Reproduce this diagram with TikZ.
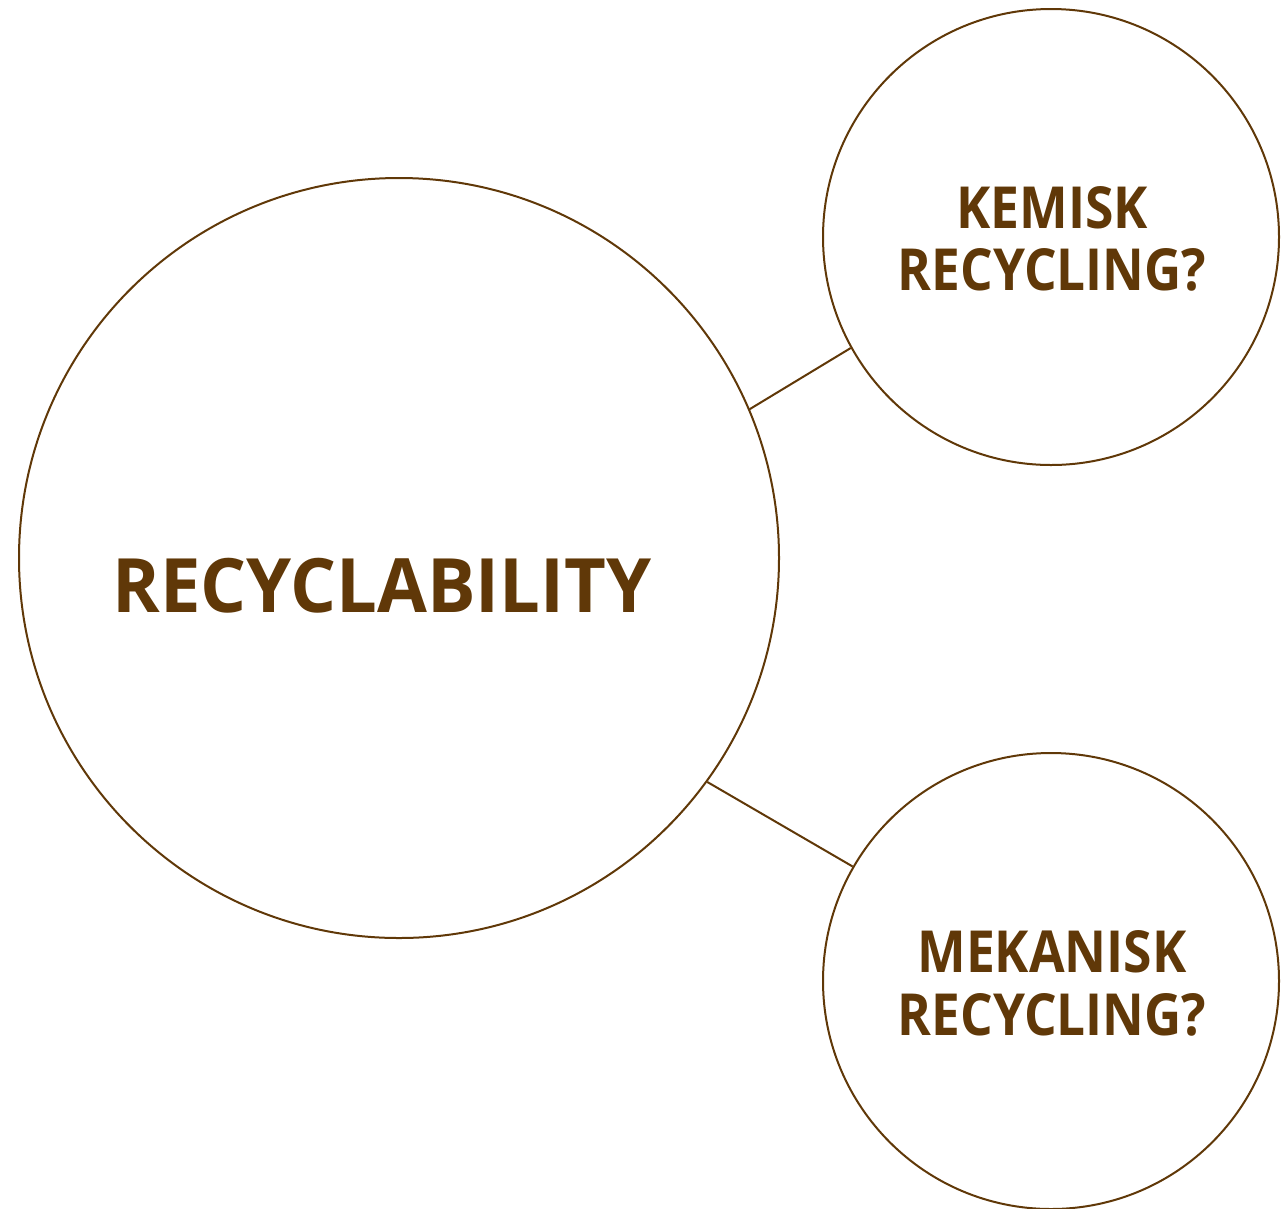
\documentclass[tikz,border=0pt]{standalone}
\usepackage{fontspec}
\setmainfont{Open Sans}
\definecolor{brn}{HTML}{603808}
\begin{document}
\begin{tikzpicture}[x=1pt,y=-1pt,
  ring/.style={circle,draw=brn,line width=2pt,inner sep=0pt},
  lbl/.style={text=brn,font=\bfseries,anchor=base,inner sep=0pt},
  link/.style={draw=brn,line width=2pt}]
\useasboundingbox (0,0) rectangle (1281,1208);
\node[ring,minimum size=760pt] (big) at (399,558) {};
\node[ring,minimum size=456pt] (top) at (1051,237) {};
\node[ring,minimum size=456pt] (bot) at (1051,981) {};
\node[lbl,font=\fontsize{75}{80}\selectfont\bfseries] (t1) at (382,612) {\scalebox{0.964}[1]{RECYCLABILITY}};
\node[lbl,font=\fontsize{58}{62}\selectfont\bfseries] (t2) at (1052,228) {\scalebox{0.89}[1]{KEMISK}};
\node[lbl,font=\fontsize{58}{62}\selectfont\bfseries] (t3) at (1052,290) {\scalebox{0.885}[1]{RECYCLING?}};
\node[lbl,font=\fontsize{58}{62}\selectfont\bfseries] (t4) at (1052,972) {\scalebox{0.89}[1]{MEKANISK}};
\node[lbl,font=\fontsize{58}{62}\selectfont\bfseries] (t5) at (1052,1035) {\scalebox{0.885}[1]{RECYCLING?}};
\draw[link] (big.23.3) -- (top.209.5);
\draw[link] (big.-36.7) -- (bot.150.1);
\end{tikzpicture}
\end{document}
